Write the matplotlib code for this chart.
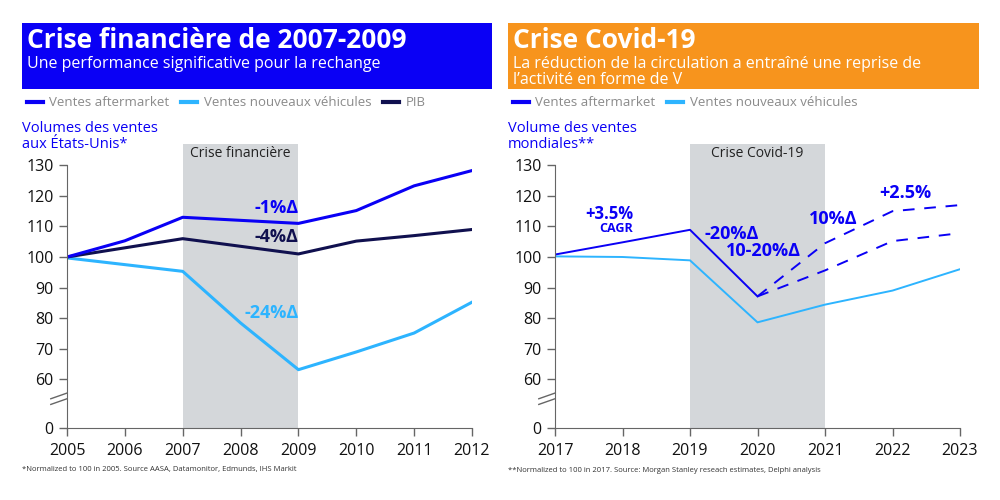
import matplotlib
matplotlib.use("Agg")
import matplotlib.pyplot as plt
from matplotlib.patches import Rectangle
from matplotlib.lines import Line2D
import numpy as np

plt.rcParams["font.family"] = ["Open Sans", "DejaVu Sans"]

BLUE = "#0a00f5"
LIGHT = "#2db4ff"
NAVY = "#10104f"
ORANGE = "#f7941d"
SHADE = "#d4d7da"
AXIS = "#666666"

# --- données : crise financière (base 100 en 2005)
years_fin = [2005, 2006, 2007, 2008, 2009, 2010, 2011, 2012]
aftermarket_fin = [100, 105.3, 113, 112, 111, 115.2, 123.3, 128.3]
nouveaux_fin = [99.7, 97.5, 95.3, 78.4, 63.1, 68.9, 75.1, 85.2]
pib_fin = [100, 103, 106, 103.5, 101, 105.2, 107, 109]

# --- données : crise covid (base 100 en 2017)
years_cov = [2017, 2018, 2019, 2020, 2021, 2022, 2023]
aftermarket_cov = [100.8, 104.8, 108.9, 87.1]
proj_haut_years = [2020, 2021, 2022, 2023]
proj_haut = [87.1, 104.5, 115, 117]
proj_bas = [87.1, 95.6, 105.2, 107.8]
nouveaux_cov = [100.2, 100, 98.9, 78.6, 84.4, 89, 96]

y_ticks = [0, 60, 70, 80, 90, 100, 110, 120, 130]


# échelle avec rupture entre 0 et 60
def fwd(v):
    v = np.asarray(v, dtype=float)
    return np.where(v >= 60, v, 44 + v * 16 / 60)


def inv(t):
    t = np.asarray(t, dtype=float)
    return np.where(t >= 60, t, (t - 44) * 60 / 16)


def base_axes(ax, years, shade, shade_label):
    ax.set_yscale("function", functions=(fwd, inv))
    ax.set_ylim(0, 137)
    ax.set_xlim(years[0], years[-1])
    ax.axvspan(shade[0], shade[1], color=SHADE, lw=0, zorder=0)
    ax.text((shade[0] + shade[1]) / 2, 133.8, shade_label, ha="center",
            va="center", fontsize=10, color="#222222")
    for s in ["top", "right"]:
        ax.spines[s].set_visible(False)
    ax.spines["left"].set_bounds(0, 130)
    ax.spines["left"].set_color(AXIS)
    ax.spines["bottom"].set_color(AXIS)
    ax.set_yticks(y_ticks)
    ax.set_yticklabels([str(t) for t in y_ticks])
    ax.set_xticks(years)
    ax.tick_params(axis="both", colors=AXIS, labelcolor="#111111",
                   labelsize=11.5, length=6, width=1)
    ax.tick_params(axis="x", pad=5)
    ax.yaxis.set_minor_locator(plt.NullLocator())
    # marques de rupture
    for yf in (0.095, 0.115):
        ax.plot([-0.04, 0.0], [yf - 0.012, yf + 0.008], transform=ax.transAxes,
                color=AXIS, lw=1, clip_on=False)


fig = plt.figure(figsize=(10, 5), dpi=100)

# --- en-têtes
fig.add_artist(Rectangle((0.022, 0.822), 0.470, 0.132, transform=fig.transFigure,
                         color=BLUE, lw=0))
fig.add_artist(Rectangle((0.508, 0.822), 0.471, 0.132, transform=fig.transFigure,
                         color=ORANGE, lw=0))
fig.text(0.027, 0.947, "Crise financière de 2007-2009", color="white",
         fontsize=19, fontweight="bold", va="top")
fig.text(0.027, 0.889, "Une performance significative pour la rechange",
         color="white", fontsize=11.5, va="top")
fig.text(0.513, 0.947, "Crise Covid-19", color="white",
         fontsize=19, fontweight="bold", va="top")
fig.text(0.513, 0.889,
         "La réduction de la circulation a entraîné une reprise de\nl’activité en forme de V",
         color="white", fontsize=11.5, va="top", linespacing=1.08)

# --- graphique gauche
ax1 = fig.add_axes([0.067, 0.144, 0.405, 0.568])
base_axes(ax1, years_fin, (2007, 2009), "Crise financière")
ax1.plot(years_fin, nouveaux_fin, color=LIGHT, lw=2.2)
ax1.plot(years_fin, pib_fin, color=NAVY, lw=2.2)
ax1.plot(years_fin, aftermarket_fin, color=BLUE, lw=2.2)
ax1.text(2009, 116.2, "-1%Δ", color=BLUE, fontsize=13, fontweight="bold",
         ha="right", va="center")
ax1.text(2009, 106.7, "-4%Δ", color=NAVY, fontsize=13, fontweight="bold",
         ha="right", va="center")
ax1.text(2009, 81.8, "-24%Δ", color=LIGHT, fontsize=13, fontweight="bold",
         ha="right", va="center")

# --- graphique droit
ax2 = fig.add_axes([0.555, 0.144, 0.405, 0.568])
base_axes(ax2, years_cov, (2019, 2021), "Crise Covid-19")
ax2.plot(years_cov, nouveaux_cov, color=LIGHT, lw=1.4)
ax2.plot(years_cov[:4], aftermarket_cov, color=BLUE, lw=1.4)
ax2.plot(proj_haut_years, proj_haut, color=BLUE, lw=1.4, ls=(0, (6, 5)))
ax2.plot(proj_haut_years, proj_bas, color=BLUE, lw=1.4, ls=(0, (6, 5)))
ax2.text(2018.16, 114.2, "+3.5%", color=BLUE, fontsize=12, fontweight="bold",
         ha="right", va="center")
ax2.text(2018.16, 109.3, "CAGR", color=BLUE, fontsize=9, fontweight="bold",
         ha="right", va="center")
ax2.text(2019.21, 107.4, "-20%Δ", color=BLUE, fontsize=13, fontweight="bold",
         ha="left", va="center")
ax2.text(2019.53, 102.1, "10-20%Δ", color=BLUE, fontsize=13, fontweight="bold",
         ha="left", va="center")
ax2.text(2020.76, 112.6, "10%Δ", color=BLUE, fontsize=13, fontweight="bold",
         ha="left", va="center")
ax2.text(2021.8, 120.8, "+2.5%", color=BLUE, fontsize=13, fontweight="bold",
         ha="left", va="center")

# --- légendes
h1 = [Line2D([], [], color=c, lw=3) for c in (BLUE, LIGHT, NAVY)]
fig.legend(h1, ["Ventes aftermarket", "Ventes nouveaux véhicules", "PIB"],
           loc="center left", bbox_to_anchor=(0.015, 0.794), ncol=3,
           frameon=False, fontsize=9.5, labelcolor="#8a8a8a", handlelength=1.2,
           handletextpad=0.5, columnspacing=0.9)
fig.legend(h1[:2], ["Ventes aftermarket", "Ventes nouveaux véhicules"],
           loc="center left", bbox_to_anchor=(0.501, 0.794), ncol=2,
           frameon=False, fontsize=9.5, labelcolor="#8a8a8a", handlelength=1.2,
           handletextpad=0.5, columnspacing=0.9)

# --- titres d'axe
fig.text(0.022, 0.727, "Volumes des ventes\naux États-Unis*", color=BLUE,
         fontsize=10.5, va="center", linespacing=1.05)
fig.text(0.508, 0.727, "Volume des ventes\nmondiales**", color=BLUE,
         fontsize=10.5, va="center", linespacing=1.05)

# --- notes
fig.text(0.022, 0.06, "*Normalized to 100 in 2005. Source AASA, Datamonitor, Edmunds, IHS Markit",
         fontsize=5.5, color="#333333", va="center")
fig.text(0.508, 0.06, "**Normalized to 100 in 2017. Source: Morgan Stanley reseach estimates, Delphi analysis",
         fontsize=5.5, color="#333333", va="center")

fig.savefig("out.png", dpi=100)
